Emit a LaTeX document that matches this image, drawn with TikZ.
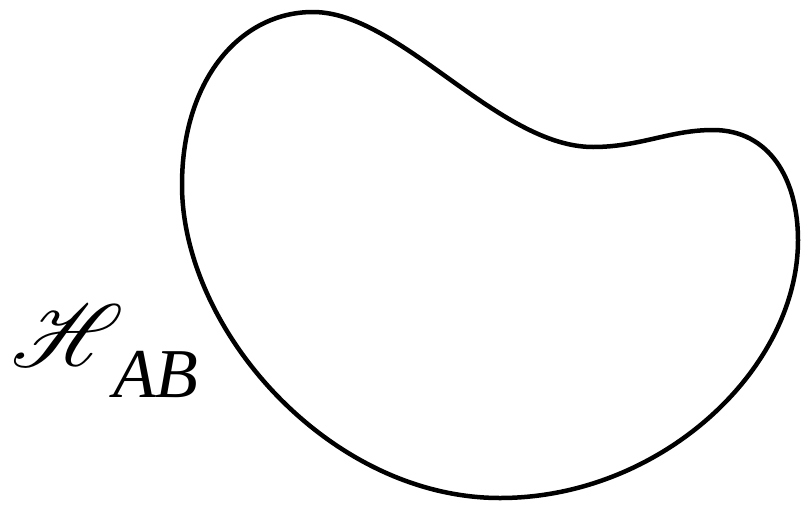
\documentclass[tikz,border=0pt]{standalone}
\usepackage{fontspec}
\setmainfont{Liberation Serif}
\usepackage{mathrsfs}
\usepackage{graphicx}
\tikzset{blob/.style={line width=4.5pt, line join=round},
  lab/.style={inner sep=0pt}}
\begin{document}
\begin{tikzpicture}[x=1pt,y=-1pt]
\useasboundingbox (0,0) rectangle (801,504);
\draw[blob] (313,12) .. controls (400,12) and (498,147) .. (593,147)
  .. controls (640,147) and (670,130) .. (713,130)
  .. controls (770,130) and (798,180) .. (798,240)
  .. controls (798,370) and (660,498) .. (500,498)
  .. controls (330,498) and (182,330) .. (182,185)
  .. controls (182,80) and (240,12) .. (313,12) -- cycle;
\node[lab] (H) at (68,336) {\resizebox{112pt}{!}{$\mathscr{H}$}};
\node[lab, anchor=base west] (AB) at (113,397) {\fontsize{70}{70}\selectfont\textit{AB}};
\end{tikzpicture}
\end{document}
